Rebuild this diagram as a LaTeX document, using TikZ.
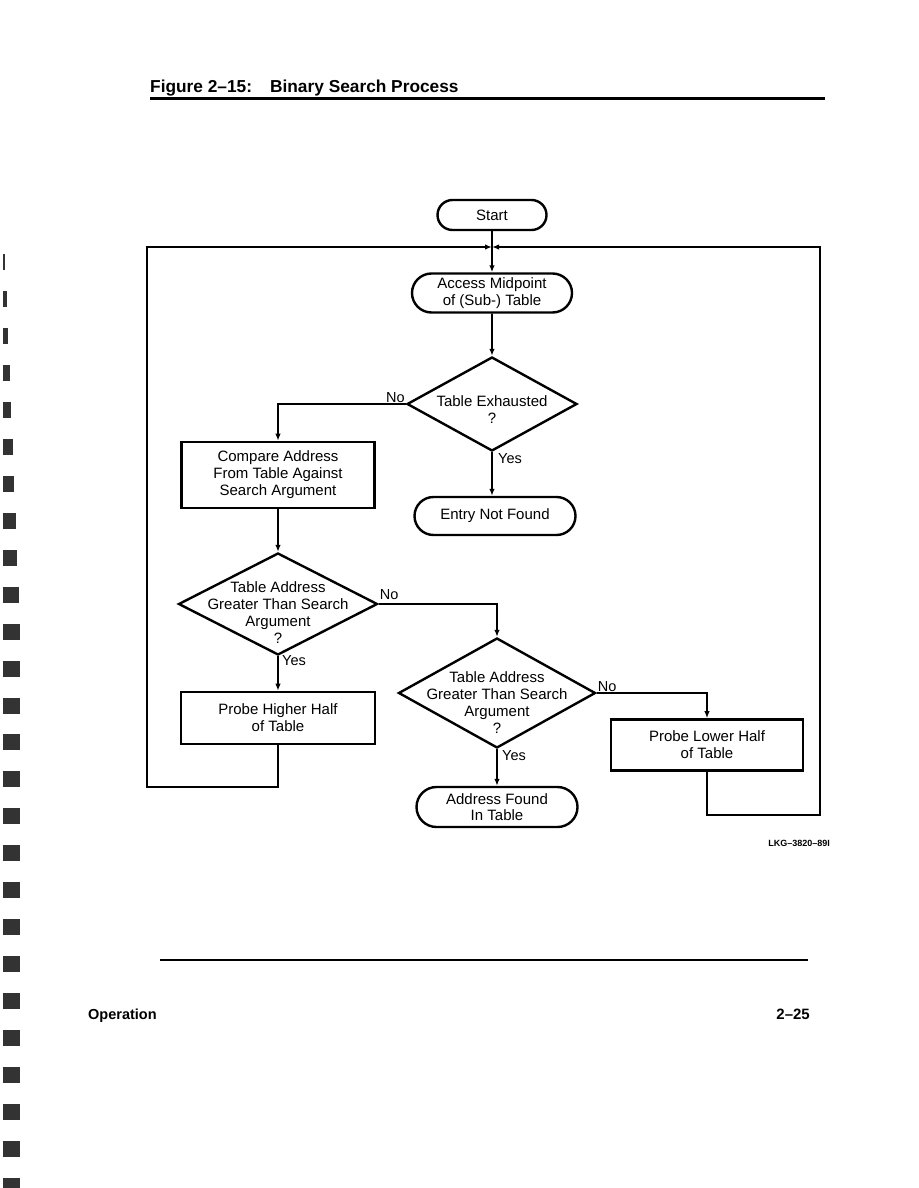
\documentclass[tikz,border=0pt]{standalone}
\usepackage{fontspec}
\setmainfont{Liberation Sans}
\usetikzlibrary{shapes.geometric,shapes.misc,arrows.meta}

\tikzset{
  flow/.style={line width=1.8pt, -{Latex[length=7pt,width=5.5pt]}},
  term/.style={rounded rectangle, draw, line width=2.4pt, minimum width=160pt,
    minimum height=39pt, inner sep=0pt, align=center,
    font=\fontsize{15}{16.5}\selectfont},
  procbox/.style={rectangle, draw, line width=2.6pt, inner sep=0pt, align=center,
    font=\fontsize{15}{17}\selectfont},
  dec/.style={diamond, draw, line width=2.4pt, inner sep=0pt},
  dectext/.style={inner sep=0pt, align=center, font=\fontsize{15}{17}\selectfont},
  lbl/.style={inner sep=1pt, font=\fontsize{14.5}{16}\selectfont}
}

\begin{document}
\begin{tikzpicture}[x=1pt,y=-1pt]
  \useasboundingbox (0,0) rectangle (918,1188);

  % Randmarken
  \foreach \i in {0,...,25} {
    \pgfmathsetmacro\w{min(2+1.5*\i,17)}
    \fill[black!80] (3,{254+36.96*\i}) rectangle ++(\w,16);
  }

  % Kopfzeile
  \node[anchor=base west, inner sep=0pt, font=\bfseries\fontsize{17.3}{20}\selectfont] (title) at (150,93)
    {Figure 2--15:\hspace{18pt}Binary Search Process};
  \draw[line width=3pt] (150,99) -- (825,99);

  % Knoten
  \node[term, minimum width=109pt, minimum height=30pt] (start) at (492,215) {Start};
  \node[term] (acc) at (492,293) {Access Midpoint\\of (Sub-) Table};
  \node[dec, minimum width=170pt, minimum height=94pt] (d1) at (492,404) {};
  \node[dectext] (t1) at ([yshift=-6pt]d1.center) {Table Exhausted\\?};
  \node[term, minimum width=161pt, minimum height=38pt] (nf) at (495,516) {Entry Not Found};
  \node[procbox, minimum width=193pt, minimum height=66pt] (cmp) at (278,475)
    {Compare Address\\From Table Against\\Search Argument};
  \node[dec, minimum width=199pt, minimum height=102pt] (d2) at (278,604) {};
  \node[dectext] (t2) at ([yshift=-9pt]d2.center) {Table Address\\Greater Than Search\\Argument\\?};
  \node[procbox, minimum width=194pt, minimum height=52pt] (hi) at (278,718) {Probe Higher Half\\of Table};
  \node[dec, minimum width=197pt, minimum height=110pt] (d3) at (497,693) {};
  \node[dectext] (t3) at ([yshift=-10pt]d3.center) {Table Address\\Greater Than Search\\Argument\\?};
  \node[procbox, minimum width=192pt, minimum height=51pt] (lo) at (707,745) {Probe Lower Half\\of Table};
  \node[term, minimum width=161pt, minimum height=40pt] (found) at (497,807) {Address Found\\In Table};

  % Verbindungen
  \coordinate (jn) at (492,247);
  \coordinate (lbot) at (147,787);
  \coordinate (rbot) at (820,815);
  \draw[flow] (start) -- (acc);
  \draw[flow] (acc) -- (d1);
  \draw[flow] (d1) -- (d1.south |- nf.north);
  \draw[flow] (d1.west) -| (cmp.north);
  \draw[flow] (cmp) -- (d2);
  \draw[flow] (d2) -- (hi);
  \draw[flow] (d2.east) -| (d3.north);
  \draw[flow] (d3) -- (found);
  \draw[flow] (d3.east) -| (lo.north);
  \draw[flow] (hi.south) |- (lbot) |- (jn);
  \draw[flow] (lo.south) |- (rbot) |- (jn);

  % Beschriftungen
  \node[lbl, anchor=south east] (no1) at (d1.west) {No};
  \node[lbl, anchor=north west] (yes1) at ([xshift=5pt]d1.south) {Yes};
  \node[lbl, anchor=south west] (no2) at ([yshift=3pt]d2.east) {No};
  \node[lbl, anchor=north west] (yes2) at ([xshift=3pt,yshift=2pt]d2.south) {Yes};
  \node[lbl, anchor=south west] (no3) at (d3.east) {No};
  \node[lbl, anchor=north west] (yes3) at ([xshift=4pt]d3.south) {Yes};
  \node[anchor=east, inner sep=0pt, font=\bfseries\fontsize{9}{10}\selectfont] (lkg) at (830,843) {LKG--3820--89I};

  % Fusszeile
  \draw[line width=2.5pt] (160,960) -- (808,960);
  \node[anchor=base west, inner sep=0pt, font=\bfseries\fontsize{14.5}{17}\selectfont] (sect) at (88,1019) {Operation};
  \node[anchor=base east, inner sep=0pt, font=\bfseries\fontsize{15}{17}\selectfont] (page) at (810,1019) {2--25};
\end{tikzpicture}
\end{document}
